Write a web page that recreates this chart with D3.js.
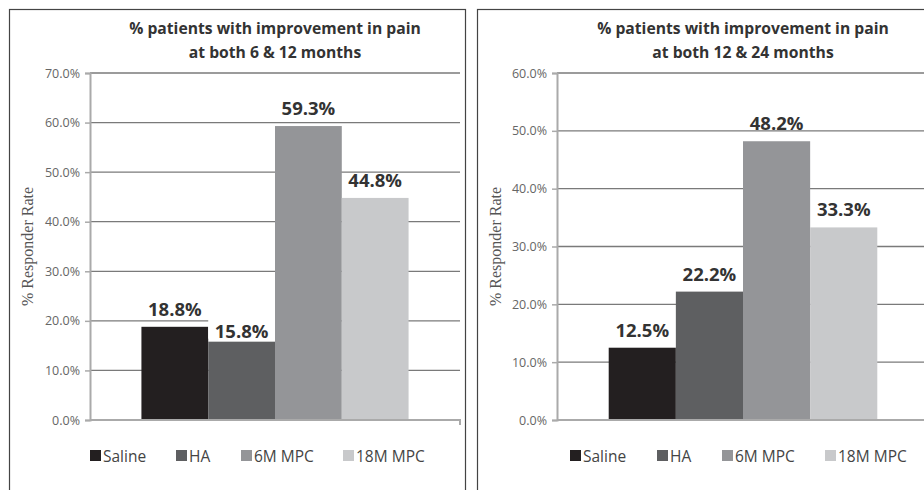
<!doctype html>
<html lang="en">
<head>
<meta charset="UTF-8" />
<title>% patients with improvement in pain</title>
<script src="https://d3js.org/d3.v7.min.js"></script>
<style>
  html,body{margin:0;padding:0;background:#fff;}
  svg{display:block;}
  .title{font-family:"Open Sans",sans-serif;font-weight:700;font-size:15.7px;fill:#333;}
  .tick text{font-family:"Open Sans",sans-serif;font-size:12.5px;fill:#666;}
  .val{font-family:"Open Sans",sans-serif;font-weight:700;font-size:18.5px;fill:#333;}
  .ylab{font-family:"Liberation Serif",serif;font-size:16px;fill:#555;}
  .leg{font-family:"Open Sans",sans-serif;font-size:15.5px;fill:#444;}
</style>
</head>
<body>
<div id="chart"></div>
<script>
/* ───── data ───── */
const categories = ['Saline','HA','6M MPC','18M MPC'];
const colors     = ['#231f20','#5e5f61','#949598','#c8c9cb'];

const leftTitle  = ['% patients with improvement in pain','at both 6 & 12 months'];
const leftValues = [18.8, 15.8, 59.3, 44.8];
const leftTicks  = [0,10,20,30,40,50,60,70];

const rightTitle  = ['% patients with improvement in pain','at both 12 & 24 months'];
const rightValues = [12.5, 22.2, 48.2, 33.3];
const rightTicks  = [0,10,20,30,40,50,60];

const W=924, H=490;
const svg=d3.select('#chart').append('svg').attr('width',W).attr('height',H);

/* ───── one panel ───── */
function drawPanel(p){
  const g=svg.append('g');

  // frame
  g.append('rect').attr('x',p.frame[0]+.5).attr('y',9.5)
   .attr('width',p.frame[1]-p.frame[0]).attr('height',H)
   .attr('fill','none').attr('stroke','#444').attr('stroke-width',1.2);

  const x=d3.scaleBand().domain(p.cats).range([p.x0,p.x1])
            .paddingInner(0).paddingOuter(0.77);
  const y=d3.scaleLinear().domain([0,d3.max(p.ticks)]).range([420,73]);
  const cx=(p.x0+p.x1)/2;

  // title
  g.append('text').attr('class','title').attr('text-anchor','middle')
   .selectAll('tspan').data(p.title).join('tspan')
   .attr('x',cx).attr('y',(d,i)=>34+i*24).text(d=>d);

  // gridlines
  g.append('g').selectAll('line').data(p.ticks.filter(d=>d>0)).join('line')
   .attr('x1',p.x0).attr('x2',p.x1).attr('y1',d=>y(d)).attr('y2',d=>y(d))
   .attr('stroke','#7a7a7a').attr('stroke-width',1.3);

  // y axis
  const ay=g.append('g').attr('transform',`translate(${p.x0},0)`)
            .call(d3.axisLeft(y).tickValues(p.ticks).tickSize(5).tickPadding(5)
                   .tickFormat(d=>d3.format('.1f')(d)+'%'));
  ay.select('.domain').attr('stroke','#aaa').attr('stroke-width',2);
  ay.selectAll('.tick line').attr('stroke','#aaa').attr('stroke-width',1.5);

  // bars
  g.append('g').selectAll('rect').data(p.values).join('rect')
   .attr('x',(d,i)=>x(p.cats[i])).attr('width',x.bandwidth())
   .attr('y',d=>y(d)).attr('height',d=>y(0)-y(d))
   .attr('fill',(d,i)=>p.colors[i]);

  // x axis
  g.append('path')
   .attr('d',`M${p.x0},${y(0)}H${p.x1}V${y(0)+5}`)
   .attr('fill','none').attr('stroke','#aaa').attr('stroke-width',2);

  // value labels (the one that sits on a gridline gets a white box)
  const lab=g.append('g').selectAll('g').data(p.values).join('g')
     .attr('transform',(d,i)=>`translate(${x(p.cats[i])+x.bandwidth()/2},${y(d)-p.labGap[i]})`);
  lab.append('text').attr('class','val').attr('text-anchor','middle').text(d=>d.toFixed(1)+'%');
  lab.filter((d,i)=>p.boxed[i]).insert('rect','text')
     .attr('x',-x.bandwidth()/2).attr('y',-18).attr('width',x.bandwidth()).attr('height',19)
     .attr('fill','#fff');

  // y axis title
  g.append('text').attr('class','ylab').attr('text-anchor','middle')
   .attr('transform',`translate(${p.ylabX},${(y(0)+y(d3.max(p.ticks)))/2}) rotate(-90)`)
   .text('% Responder Rate');

  // legend
  const lg=g.append('g').selectAll('g').data(p.cats).join('g')
     .attr('transform',(d,i)=>`translate(${p.legX[i]},${456})`);
  lg.append('rect').attr('x',0).attr('y',-6).attr('width',11).attr('height',11)
    .attr('fill',(d,i)=>p.colors[i]);
  lg.append('text').attr('class','leg').attr('x',13).attr('y',5.5).text(d=>d);
}

drawPanel({
  frame:[9,465], x0:90, x1:460, title:leftTitle, values:leftValues, ticks:leftTicks,
  cats:categories, colors, ylabX:33, labGap:[11,4,11,11], boxed:[0,1,0,0], legX:[90,176,241,343]
});
drawPanel({
  frame:[477,990], x0:557, x1:929, title:rightTitle, values:rightValues, ticks:rightTicks,
  cats:categories, colors, ylabX:501, labGap:[11,11,11,11], boxed:[0,0,0,0], legX:[570,657,722,825]
});
</script>
</body>
</html>
